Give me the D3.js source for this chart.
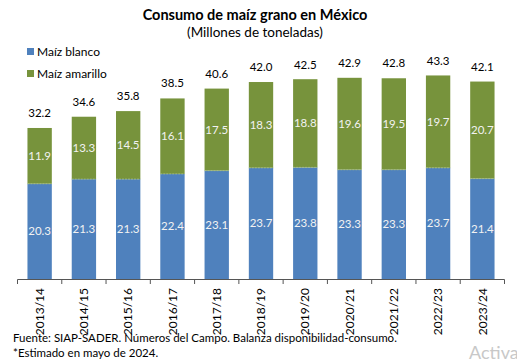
<!DOCTYPE html>
<html><head><meta charset="utf-8">
<script src="https://cdn.jsdelivr.net/npm/d3@7"></script>
<style>body{margin:0;background:#fff}svg{display:block;font-family:Lato,"Open Sans",sans-serif}</style>
</head><body><svg id="c" width="517" height="363"></svg>
<script>
const categories=["2013/14","2014/15","2015/16","2016/17","2017/18","2018/19","2019/20","2020/21","2021/22","2022/23","2023/24"];
const blanco=[20.3,21.3,21.3,22.4,23.1,23.7,23.8,23.3,23.3,23.7,21.4];
const amarillo=[11.9,13.3,14.5,16.1,17.5,18.3,18.8,19.6,19.5,19.7,20.7];
const totals=[32.2,34.6,35.8,38.5,40.6,42.0,42.5,42.9,42.8,43.3,42.1];
const seriesNames=["Maíz blanco","Maíz amarillo"];
const colors=["#4F81BD","#77933C"];

const svg=d3.select("#c");
const x=d3.scaleBand().domain(categories).range([17.5,504.5]).paddingInner(0.45).paddingOuter(0.225);
const y=d3.scaleLinear().domain([0,45]).range([279,279-45*4.69]);

const rows=categories.map((c,i)=>({cat:c,b:blanco[i],a:amarillo[i],t:totals[i]}));
const stack=d3.stack().keys(["b","a"])(rows);

svg.append("text").attr("x",255).attr("y",20).attr("text-anchor","middle").attr("font-weight","bold").attr("font-size",14.5).attr("fill","#000").text("Consumo de maíz grano en México");
svg.append("text").attr("x",255).attr("y",37).attr("text-anchor","middle").attr("font-size",13.5).attr("fill","#000").text("(Millones de toneladas)");

stack.forEach((s,k)=>{
  const g=svg.append("g");
  g.selectAll("rect").data(s).join("rect")
    .attr("x",d=>x(d.data.cat)).attr("width",x.bandwidth())
    .attr("y",d=>y(d[1])).attr("height",d=>y(d[0])-y(d[1]))
    .attr("fill",colors[k]);
  g.selectAll("text").data(s).join("text")
    .attr("x",d=>x(d.data.cat)+x.bandwidth()/2)
    .attr("y",d=>(y(d[0])+y(d[1]))/2).attr("dy","0.35em")
    .attr("text-anchor","middle").attr("font-size",11.5).attr("fill","#f2f2f2")
    .text(d=>(d[1]-d[0]).toFixed(1));
});
svg.append("g").selectAll("line").data(rows).join("line")
  .attr("x1",d=>x(d.cat)).attr("x2",d=>x(d.cat)+x.bandwidth())
  .attr("y1",d=>y(d.b)).attr("y2",d=>y(d.b))
  .attr("stroke","#a8c08a").attr("stroke-width",0.8).attr("stroke-dasharray","2,1");

svg.append("g").selectAll("text").data(rows).join("text")
  .attr("x",d=>x(d.cat)+x.bandwidth()/2).attr("y",d=>y(d.t)-11)
  .attr("text-anchor","middle").attr("font-size",11.5).attr("fill","#000")
  .text(d=>d.t.toFixed(1));

const ax=svg.append("g");
ax.append("line").attr("x1",17.5).attr("x2",504.5).attr("y1",279.5).attr("y2",279.5).attr("stroke","#555").attr("stroke-width",1);
const bounds=d3.range(categories.length+1).map(i=>x.range()[0]+i*(x.range()[1]-x.range()[0])/categories.length);
ax.selectAll("line.t").data(bounds).join("line").attr("class","t")
  .attr("x1",d=>d).attr("x2",d=>d).attr("y1",279.5).attr("y2",284).attr("stroke","#555");
ax.selectAll("text").data(categories).join("text")
  .attr("transform",d=>`translate(${x(d)+x.bandwidth()/2},288) rotate(-90)`)
  .attr("dy","0.35em").attr("text-anchor","end").attr("font-size",12).attr("fill","#000").text(d=>d);

const lg=svg.append("g");
seriesNames.forEach((n,i)=>{
  lg.append("rect").attr("x",27).attr("y",48+i*22).attr("width",7).attr("height",7).attr("fill",colors[i]);
  lg.append("text").attr("x",37).attr("y",56+i*22).attr("font-size",12).attr("fill","#000").text(n);
});

svg.append("text").attr("x",13).attr("y",342).attr("font-size",11.5).attr("fill","#000").text("Fuente: SIAP-SADER. Números del Campo. Balanza disponibilidad-consumo.");
svg.append("text").attr("x",13).attr("y",357).attr("font-size",11.5).attr("fill","#000").text("*Estimado en mayo de 2024.");
svg.append("text").attr("x",469).attr("y",359).attr("font-size",18).attr("fill","#c8c8c8").text("Activa");
</script></body></html>
